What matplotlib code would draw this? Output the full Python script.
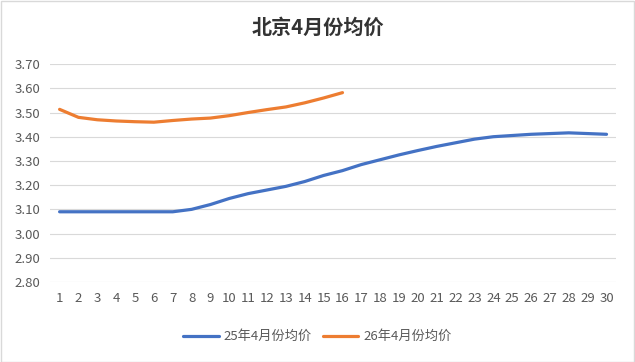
import matplotlib
matplotlib.use("Agg")
import matplotlib.pyplot as plt
from matplotlib.patches import Rectangle

plt.rcParams['font.family'] = ['Noto Sans CJK SC', 'DejaVu Sans']

days = list(range(1, 31))
price_25 = [3.09, 3.09, 3.09, 3.09, 3.09, 3.09, 3.09, 3.10, 3.12, 3.145,
            3.165, 3.18, 3.195, 3.215, 3.24, 3.26, 3.285, 3.305, 3.325, 3.343,
            3.36, 3.375, 3.39, 3.40, 3.405, 3.41, 3.413, 3.416, 3.413, 3.41]
price_26 = [3.513, 3.48, 3.47, 3.465, 3.462, 3.46, 3.467, 3.473, 3.477, 3.487,
            3.50, 3.512, 3.523, 3.54, 3.56, 3.582]
yticks = [2.80, 2.90, 3.00, 3.10, 3.20, 3.30, 3.40, 3.50, 3.60, 3.70]

fig = plt.figure(figsize=(6.35, 3.62), dpi=100)
ax = fig.add_axes([0.079, 0.221, 0.891, 0.602])

ax.plot(days, price_25, color='#4472C4', lw=2.3, label='25年4月份均价', solid_capstyle='round')
ax.plot(days[:len(price_26)], price_26, color='#ED7D31', lw=2.3, label='26年4月份均价', solid_capstyle='round')

ax.set_xlim(0.5, 30.5)
ax.set_ylim(2.80, 3.70)
ax.set_yticks(yticks)
ax.set_yticklabels([f'{v:.2f}' for v in yticks])
ax.set_xticks(days)
ax.set_xticklabels([str(d) for d in days])
ax.grid(axis='y', color='#d9d9d9', lw=0.8)
ax.set_axisbelow(True)
for s in ax.spines.values():
    s.set_visible(False)
ax.tick_params(length=0, labelsize=9.5, colors='#595959', pad=7)

fig.text(0.5, 0.925, '北京4月份均价', ha='center', va='center',
         fontsize=14.5, fontweight='bold', color='#333333')

fig.legend(loc='center', bbox_to_anchor=(0.5, 0.07), ncol=2, frameon=False,
           fontsize=9.5, labelcolor='#595959', handlelength=2.7, columnspacing=0.8,
           handletextpad=0.4)

fig.add_artist(Rectangle((0.001, 0.001), 0.997, 0.997, transform=fig.transFigure,
                         fill=False, edgecolor='#d9d9d9', lw=1))

fig.savefig('out.png', dpi=100)
